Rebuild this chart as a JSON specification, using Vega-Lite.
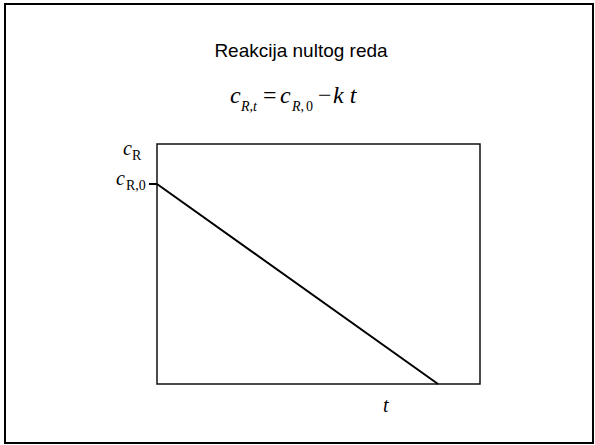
{
  "$schema": "https://vega.github.io/schema/vega-lite/v6.json",
  "width": 323,
  "height": 240,
  "autosize": {"type": "none"},
  "padding": {"left": 157, "top": 144, "right": 115, "bottom": 61},
  "background": "white",
  "config": {"view": {"stroke": "#111", "strokeWidth": 1.5}},
  "data": {"values": [{"label": "annotation"}]},
  "datasets": {
    "line": [{"t": 0, "c": 0.8333}, {"t": 0.87, "c": 0}]
  },
  "layer": [
    {
      "data": {"name": "line"},
      "mark": {"type": "line", "color": "black", "strokeWidth": 2},
      "encoding": {
        "x": {"field": "t", "type": "quantitative", "scale": {"domain": [0, 1], "nice": false, "zero": false}, "axis": null},
        "y": {"field": "c", "type": "quantitative", "scale": {"domain": [0, 1], "nice": false, "zero": false}, "axis": null}
      }
    },
    {
      "mark": {"type": "rect", "fill": null, "stroke": "black", "strokeWidth": 2, "clip": false},
      "encoding": {
        "x": {"datum": -0.4706, "type": "quantitative"},
        "x2": {"datum": 1.3498},
        "y": {"datum": -0.2458, "type": "quantitative"},
        "y2": {"datum": 1.5833}
      }
    },
    {
      "mark": {"type": "rule", "color": "black", "strokeWidth": 2},
      "encoding": {
        "x": {"datum": -0.0248, "type": "quantitative"},
        "x2": {"datum": 0},
        "y": {"datum": 0.8333, "type": "quantitative"}
      }
    },
    {
      "mark": {"type": "text", "font": "Liberation Sans", "fontSize": 19, "align": "center", "baseline": "alphabetic", "color": "black"},
      "encoding": {"x": {"datum": 0.4458, "type": "quantitative"}, "y": {"datum": 1.3625, "type": "quantitative"}, "text": {"value": "Reakcija nultog reda"}}
    },
    {
      "mark": {"type": "text", "font": "'Liberation Serif', 'Times New Roman', serif", "fontStyle": "italic", "fontSize": 24, "align": "left", "baseline": "alphabetic", "color": "black"},
      "encoding": {"x": {"datum": 0.226, "type": "quantitative"}, "y": {"datum": 1.1708, "type": "quantitative"}, "text": {"value": "c"}}
    },
    {
      "mark": {"type": "text", "font": "'Liberation Serif', 'Times New Roman', serif", "fontStyle": "italic", "fontSize": 14, "align": "left", "baseline": "alphabetic", "color": "black"},
      "encoding": {"x": {"datum": 0.26, "type": "quantitative"}, "y": {"datum": 1.1375, "type": "quantitative"}, "text": {"value": "R,t"}}
    },
    {
      "mark": {"type": "text", "font": "'Liberation Serif', 'Times New Roman', serif", "fontSize": 24, "align": "left", "baseline": "alphabetic", "color": "black"},
      "encoding": {"x": {"datum": 0.3282, "type": "quantitative"}, "y": {"datum": 1.1708, "type": "quantitative"}, "text": {"value": "="}}
    },
    {
      "mark": {"type": "text", "font": "'Liberation Serif', 'Times New Roman', serif", "fontStyle": "italic", "fontSize": 24, "align": "left", "baseline": "alphabetic", "color": "black"},
      "encoding": {"x": {"datum": 0.381, "type": "quantitative"}, "y": {"datum": 1.1708, "type": "quantitative"}, "text": {"value": "c"}}
    },
    {
      "mark": {"type": "text", "font": "'Liberation Serif', 'Times New Roman', serif", "fontStyle": "italic", "fontSize": 14, "align": "left", "baseline": "alphabetic", "color": "black"},
      "encoding": {"x": {"datum": 0.418, "type": "quantitative"}, "y": {"datum": 1.1375, "type": "quantitative"}, "text": {"value": "R,"}}
    },
    {
      "mark": {"type": "text", "font": "'Liberation Serif', 'Times New Roman', serif", "fontSize": 14, "align": "left", "baseline": "alphabetic", "color": "black"},
      "encoding": {"x": {"datum": 0.4613, "type": "quantitative"}, "y": {"datum": 1.1375, "type": "quantitative"}, "text": {"value": "0"}}
    },
    {
      "mark": {"type": "text", "font": "'Liberation Serif', 'Times New Roman', serif", "fontSize": 24, "align": "left", "baseline": "alphabetic", "color": "black"},
      "encoding": {"x": {"datum": 0.4985, "type": "quantitative"}, "y": {"datum": 1.1708, "type": "quantitative"}, "text": {"value": "−"}}
    },
    {
      "mark": {"type": "text", "font": "'Liberation Serif', 'Times New Roman', serif", "fontStyle": "italic", "fontSize": 24, "align": "left", "baseline": "alphabetic", "color": "black"},
      "encoding": {"x": {"datum": 0.5449, "type": "quantitative"}, "y": {"datum": 1.1708, "type": "quantitative"}, "text": {"value": "k t"}}
    },
    {
      "mark": {"type": "text", "font": "'Liberation Serif', 'Times New Roman', serif", "fontStyle": "italic", "fontSize": 20, "align": "left", "baseline": "alphabetic", "color": "black"},
      "encoding": {"x": {"datum": -0.1053, "type": "quantitative"}, "y": {"datum": 0.954, "type": "quantitative"}, "text": {"value": "c"}}
    },
    {
      "mark": {"type": "text", "font": "'Liberation Serif', 'Times New Roman', serif", "fontSize": 14, "align": "left", "baseline": "alphabetic", "color": "black"},
      "encoding": {"x": {"datum": -0.0774, "type": "quantitative"}, "y": {"datum": 0.9333, "type": "quantitative"}, "text": {"value": "R"}}
    },
    {
      "mark": {"type": "text", "font": "'Liberation Serif', 'Times New Roman', serif", "fontStyle": "italic", "fontSize": 20, "align": "left", "baseline": "alphabetic", "color": "black"},
      "encoding": {"x": {"datum": -0.1269, "type": "quantitative"}, "y": {"datum": 0.829, "type": "quantitative"}, "text": {"value": "c"}}
    },
    {
      "mark": {"type": "text", "font": "'Liberation Serif', 'Times New Roman', serif", "fontSize": 14, "align": "left", "baseline": "alphabetic", "color": "black"},
      "encoding": {"x": {"datum": -0.096, "type": "quantitative"}, "y": {"datum": 0.8083, "type": "quantitative"}, "text": {"value": "R,0"}}
    },
    {
      "mark": {"type": "text", "font": "'Liberation Serif', 'Times New Roman', serif", "fontStyle": "italic", "fontSize": 20, "align": "left", "baseline": "alphabetic", "color": "black"},
      "encoding": {"x": {"datum": 0.6997, "type": "quantitative"}, "y": {"datum": -0.1167, "type": "quantitative"}, "text": {"value": "t"}}
    }
  ]
}
